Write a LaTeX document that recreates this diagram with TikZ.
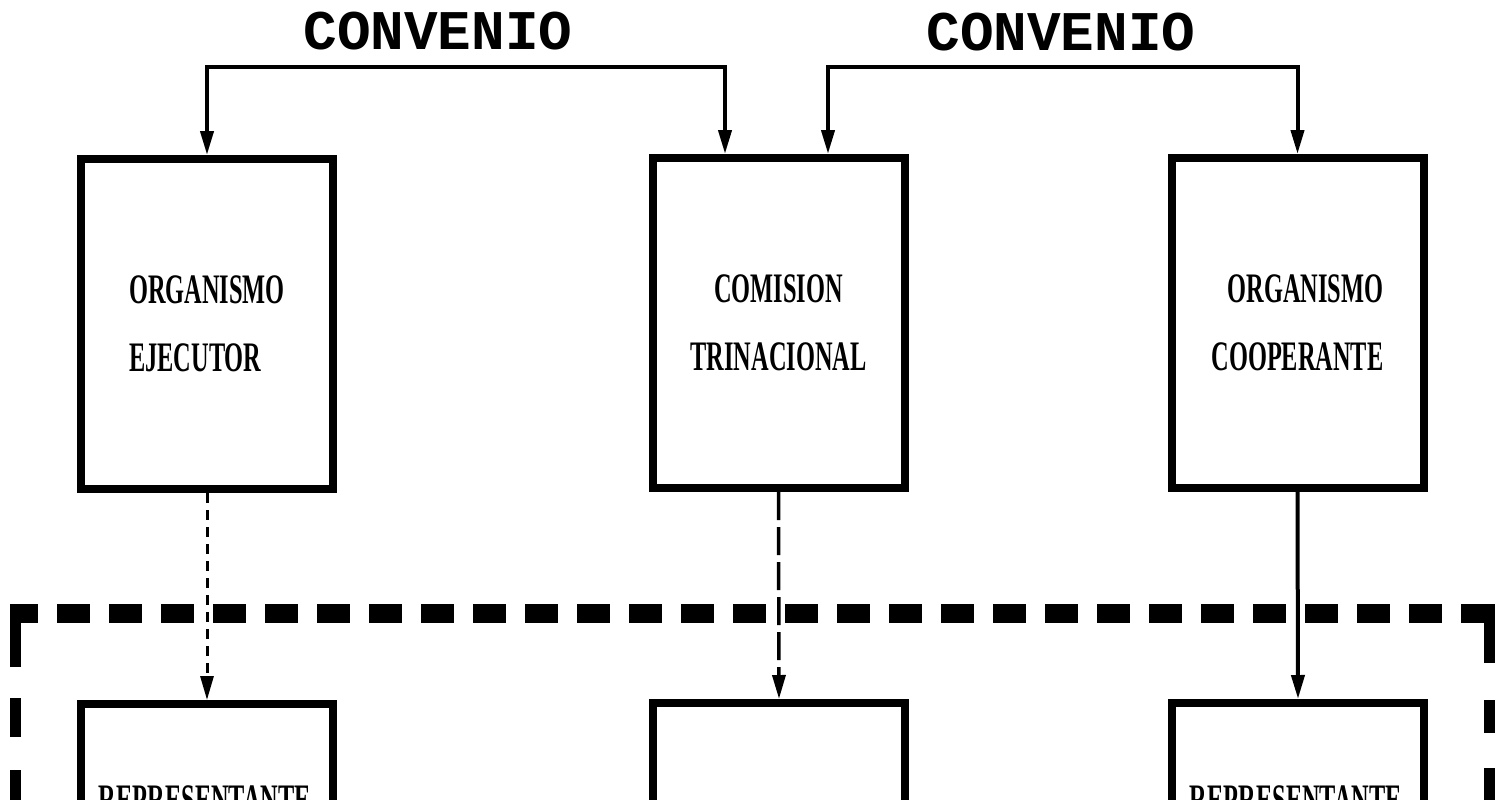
\documentclass[tikz,border=0pt]{standalone}
\usepackage{fontspec}
\usetikzlibrary{arrows.meta,calc}
\newfontfamily\boxfont[FakeStretch=0.58]{Liberation Serif}
\newfontfamily\headfont{Liberation Mono}
\begin{document}
\begin{tikzpicture}[x=1pt,y=-1pt,
  box/.style={draw,line width=8pt,minimum width=252pt,minimum height=330pt,inner sep=0pt,
    font=\boxfont\bfseries\fontsize{42}{68}\selectfont},
  lbl/.style={inner sep=0pt,font=\boxfont\bfseries\fontsize{42}{68}\selectfont},
  head/.style={inner sep=0pt,font=\headfont\bfseries\fontsize{56}{60}\selectfont},
  conn/.style={line width=4pt},
  tip/.style={-{Triangle[length=24pt,width=13pt]}},
  dtip/.style={{Triangle[length=24pt,width=13pt]}-{Triangle[length=24pt,width=13pt]}},
  frameh/.style={line width=19pt},
  framev/.style={line width=11pt}]
\useasboundingbox (0,0) rectangle (1505,800);
\clip (0,0) rectangle (1505,800);
\fill[white] (0,0) rectangle (1505,800);

% top boxes
\node[box,align=left]  (tl) at (207,324)   {ORGANISMO\\EJECUTOR};
\node[box,align=center](tm) at (778.5,323) {COMISION\\TRINACIONAL};
\node[box,align=right] (tr) at (1297.5,323){ORGANISMO\\COOPERANTE};

% bottom boxes (cut by the page edge)
\node[box] (bl) at (207,869) {};
\node[box] (bm) at (779,868) {};
\node[box] (br) at (1298,868) {};
\node[lbl,anchor=north] (rep1) at (205,785) {REPRESENTANTE};
\node[lbl,anchor=north] (rep3) at (1296,785) {REPRESENTANTE};

% agreement labels
\node[head] (conv1) at (438,31) {CONVENIO};
\node[head] (conv2) at (1061,32) {CONVENIO};

% agreement brackets
\coordinate (t1) at ([xshift=-53.5pt]tm.north);
\coordinate (t2) at ([xshift=49.5pt]tm.north);
\coordinate (h1) at (465,67);
\coordinate (h2) at (1060,67);
\draw[conn,dtip] (tl.north) |- (h1) -| (t1);
\draw[conn,dtip] (t2) |- (h2) -| (tr.north);

% links to the lower level
\draw[line width=3pt,dash pattern=on 10pt off 7pt,tip] (tl.south) -- (bl.north);
\draw[line width=3.5pt,dash pattern=on 28pt off 7pt,tip] (tm.south) -- (bm.north);
\draw[conn,tip] (tr.south) -- (br.north);

% dashed frame
\draw[frameh,dash pattern=on 33pt off 19pt,dash phase=5pt] (10,613) -- (1495,613);
\draw[framev,dash pattern=on 63pt off 31pt on 39pt off 33pt] (15.5,604) -- (15.5,840);
\draw[framev,dash pattern=on 59pt off 37pt on 33pt off 35pt] (1489,604) -- (1489,840);
\end{tikzpicture}
\end{document}
